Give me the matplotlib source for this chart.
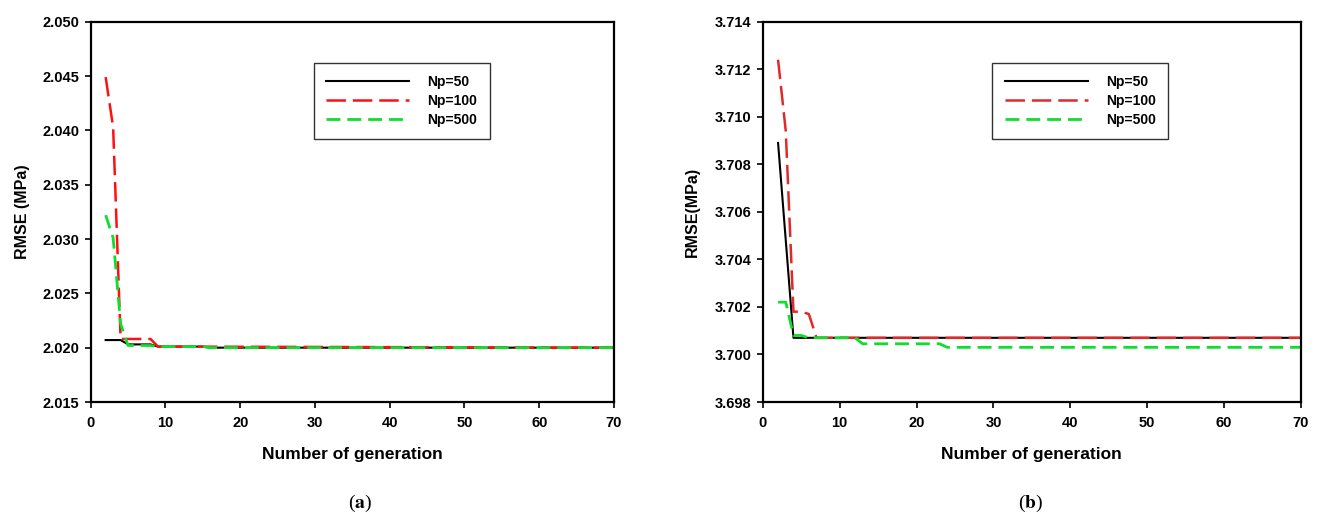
import numpy as np
import matplotlib
matplotlib.use('Agg')
import matplotlib.pyplot as plt
from matplotlib.ticker import FormatStrFormatter

plt.rcParams['font.family'] = ['Liberation Sans', 'DejaVu Sans']
plt.rcParams['font.weight'] = 'bold'
plt.rcParams['lines.scale_dashes'] = False
plt.rcParams['mathtext.fontset'] = 'stix'

# (a) RMSE vs generation, breakpoints
gen_a_50 = [2, 4, 5, 8, 9, 15, 16, 70]
rmse_a_50 = [2.0207, 2.0207, 2.0203, 2.0203, 2.0201, 2.0201, 2.0200, 2.0200]
gen_a_100 = [2, 3, 4, 8, 9, 70]
rmse_a_100 = [2.0449, 2.0403, 2.0208, 2.0208, 2.0201, 2.0200]
gen_a_500 = [2, 3, 4, 5, 8, 9, 15, 16, 70]
rmse_a_500 = [2.0322, 2.0301, 2.0222, 2.0202, 2.0202, 2.0201, 2.0201, 2.0200, 2.0200]

# (b)
gen_b_50 = [2, 4, 70]
rmse_b_50 = [3.7089, 3.7007, 3.7007]
gen_b_100 = [2, 3, 4, 5, 6, 7, 70]
rmse_b_100 = [3.7124, 3.7094, 3.7018, 3.7018, 3.7017, 3.7007, 3.7007]
gen_b_500 = [2, 3, 4, 5, 6, 12, 13, 23, 24, 70]
rmse_b_500 = [3.7022, 3.7022, 3.7008, 3.7008, 3.7007, 3.7007, 3.70045, 3.70045, 3.7003, 3.7003]

labels = ['Np=50', 'Np=100', 'Np=500']

W, H = 1319, 524
fig = plt.figure(figsize=(W / 100, H / 100), dpi=100)
ax_a = fig.add_axes([90.7 / W, 1 - 402 / H, (614 - 90.7) / W, (402 - 21.7) / H])
ax_b = fig.add_axes([762.7 / W, 1 - 402 / H, (1301 - 762.7) / W, (402 - 21.7) / H])


def draw(ax, series, red, ylim, ystep, ylabel):
    (g50, r50), (g100, r100), (g500, r500) = series
    ax.plot(g50, r50, color='black', lw=1.5, label=labels[0])
    ax.plot(g100, r100, color=red, lw=1.8, dashes=(14, 5), label=labels[1])
    ax.plot(g500, r500, color='#10dd30', lw=2.0, dashes=(10, 5), label=labels[2])
    ax.set_xlim(0, 70)
    ax.set_ylim(*ylim)
    ax.set_xticks(np.arange(0, 71, 10))
    ax.set_yticks(np.arange(ylim[0], ylim[1] + ystep / 2, ystep))
    ax.yaxis.set_major_formatter(FormatStrFormatter('%.3f'))
    ax.tick_params(direction='out', length=4, width=1.2, labelsize=10.5,
                   top=False, right=False)
    ax.tick_params(axis='x', pad=6)
    ax.tick_params(axis='y', pad=4)
    for s in ax.spines.values():
        s.set_linewidth(1.6)
    ax.set_xlabel('Number of generation', fontsize=12.5, fontweight='bold')
    ax.set_ylabel(ylabel, fontsize=11.5, fontweight='bold')
    ax.xaxis.set_label_coords(0.5, -0.118)
    ax.yaxis.set_label_coords(-0.116, 0.5)
    leg = ax.legend(loc='upper left', bbox_to_anchor=(0.426, 0.892), fontsize=10,
                    handlelength=6.0, handletextpad=1.3, labelspacing=0.35,
                    borderpad=0.9, borderaxespad=0, fancybox=False, frameon=True)
    leg.get_frame().set_edgecolor('black')
    leg.get_frame().set_linewidth(1.0)


draw(ax_a, [(gen_a_50, rmse_a_50), (gen_a_100, rmse_a_100), (gen_a_500, rmse_a_500)],
     '#ff1010', (2.015, 2.050), 0.005, 'RMSE (MPa)')
draw(ax_b, [(gen_b_50, rmse_b_50), (gen_b_100, rmse_b_100), (gen_b_500, rmse_b_500)],
     '#e02a2a', (3.698, 3.714), 0.002, 'RMSE(MPa)')

fig.text(360 / W, 1 - 503 / H, r'($\mathbf{a}$)', fontsize=14, ha='center', va='center',
         family='Liberation Serif', fontweight='normal')
fig.text(1031 / W, 1 - 503 / H, r'($\mathbf{b}$)', fontsize=14, ha='center', va='center',
         family='Liberation Serif', fontweight='normal')

fig.savefig('out.png', dpi=100)
